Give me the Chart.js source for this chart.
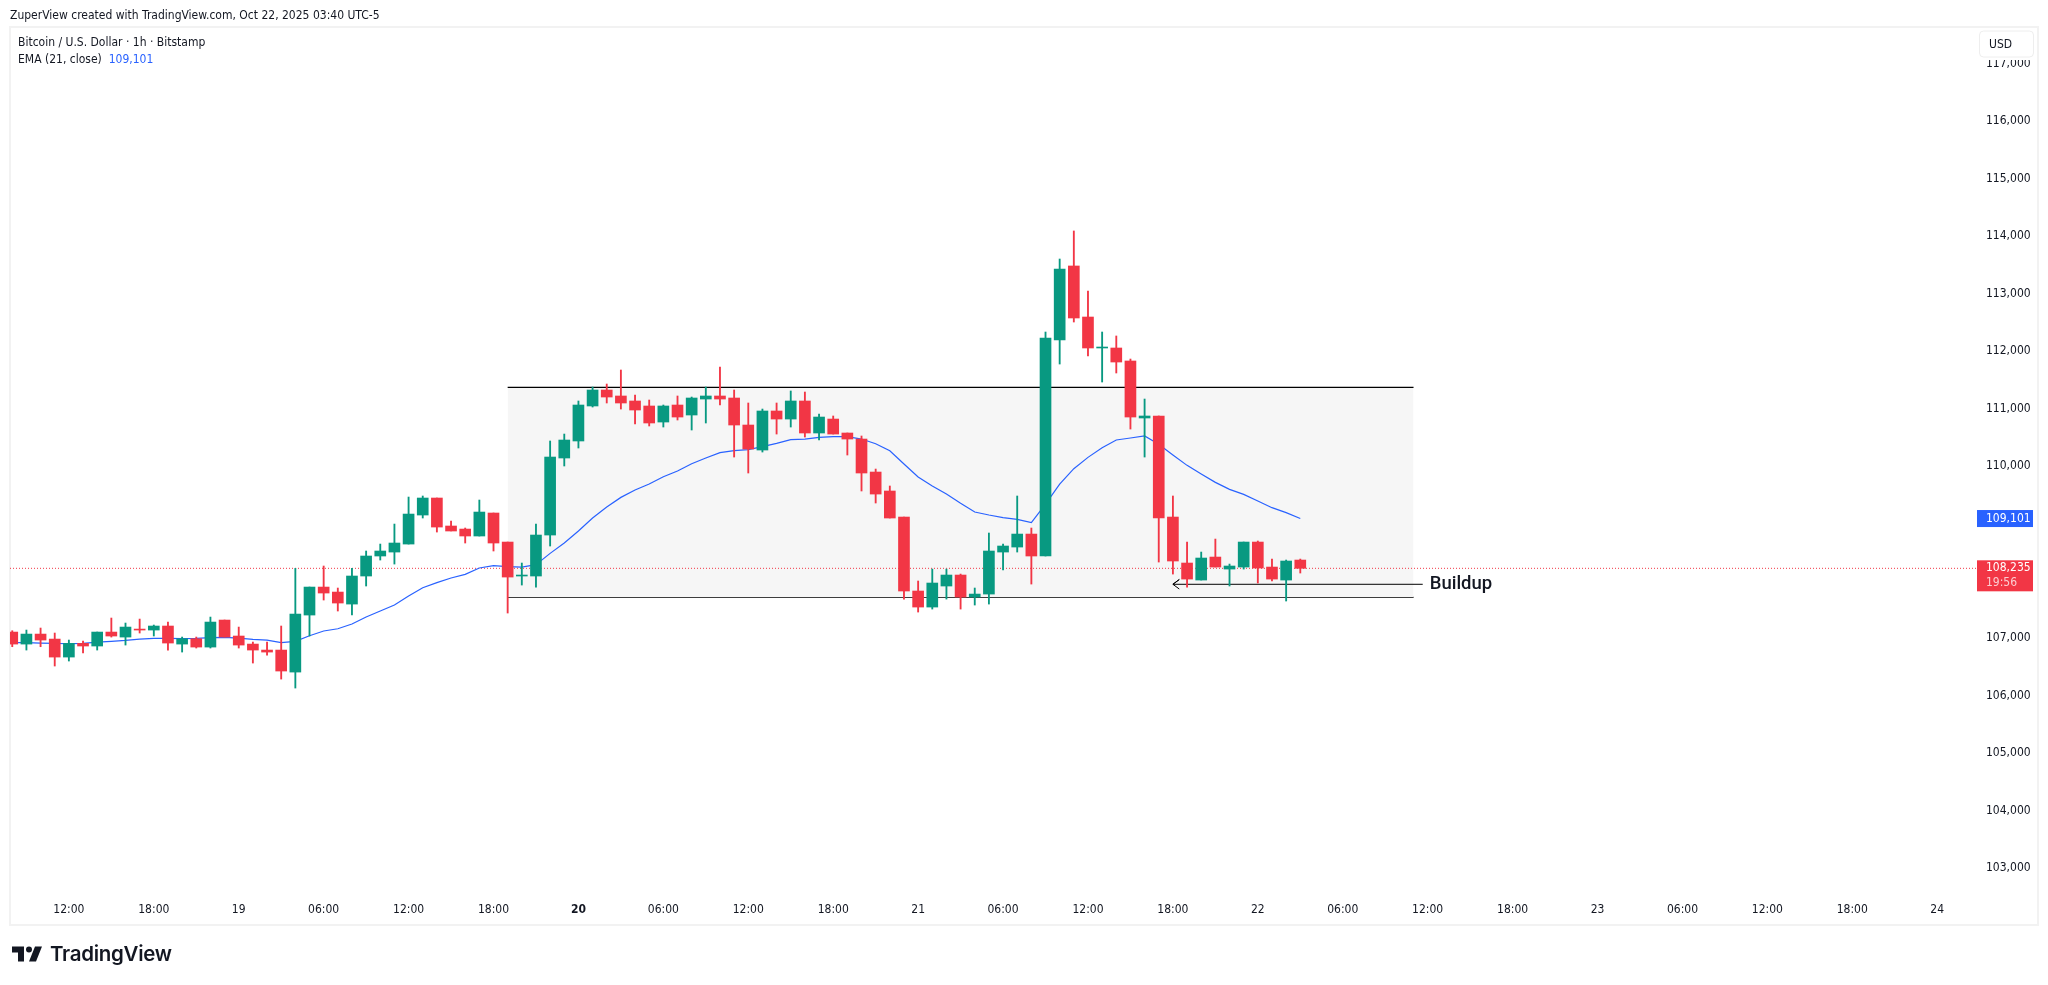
<!DOCTYPE html>
<html>
<head>
<meta charset="utf-8">
<title>BTCUSD 1h</title>
<script src="https://cdn.jsdelivr.net/npm/chart.js@4"></script>
<style>
  html, body { margin: 0; padding: 0; background: #fff; overflow: hidden; }
  body { width: 2048px; height: 985px; position: relative; color: #131722;
         font-family: 'DejaVu Sans Condensed', 'Noto Sans', sans-serif; }
  #frame { position: absolute; left: 9px; top: 26px; width: 2026px; height: 896px; border: 2px solid #f2f2f2; }
  #chart { position: absolute; left: 0; top: 0; }
  .txt { position: absolute; white-space: nowrap; font-size: 12px; line-height: 16px; }
  #brand { position: absolute; left: 12px; top: 941px; display: flex; align-items: center; }
  #brand span { font: 600 20.5px Inter, sans-serif; margin-left: 8px; letter-spacing: -0.3px; color: #131722; }
</style>
</head>
<body>
<div id="frame"></div>
<canvas id="chart" width="2048" height="985"></canvas>
<div class="txt" style="left:10px;top:7px">ZuperView created with TradingView.com, Oct 22, 2025 03:40 UTC-5</div>
<div class="txt" style="left:18px;top:34px">Bitcoin / U.S. Dollar · 1h · Bitstamp</div>
<div class="txt" style="left:18px;top:51px">EMA (21, close)&nbsp;&nbsp;<span style="color:#2962ff">109,101</span></div>
<div id="brand">
  <svg width="30" height="16" viewBox="2 6 30 15"><path fill="#131722" d="M14 6H2v6h6v9h6V6zm12 15h-7l6-15h7l-6 15zm-7-9a3 3 0 1 0 0-6 3 3 0 0 0 0 6z"/></svg>
  <span>TradingView</span>
</div>
<script>
// hours counted from Oct 18 00:00
const hours = [8,9,10,11,12,13,14,15,16,17,18,19,20,21,22,23,24,25,26,27,28,29,30,31,32,33,34,35,36,37,38,39,40,41,42,43,
  44,45,46,47,48,49,50,51,52,53,54,55,56,57,58,59,60,61,62,63,64,65,66,67,68,69,70,71,72,73,74,75,76,77,78,
  79,80,81,82,83,84,85,86,87,88,89,90,91,92,93,94,95,96,97,98,99];

const opens = [107126,106917,107091,107004,106691,106929,106883,107126,107039,107178,107161,107231,106917,107010,106865,107335,107057,106917,106813,106813,106430,107422,107909,107822,107613,108101,108449,108518,108657,109162,109458,108971,108918,108797,109197,108692,
  108101,108101,108814,110154,110450,111059,111337,111233,111146,111059,110780,111076,110902,111180,111233,111198,110728,110293,110972,110832,111146,110589,110832,110589,110484,109910,109580,109127,107840,107561,107927,108118,107735,107787,108518,
  108605,108831,108449,112207,113495,112607,112068,112068,111842,110850,110885,109127,108327,108031,108431,108222,108257,108692,108257,108031,108379];
const highs = [107149,107161,107196,107109,106987,106970,107126,107370,107283,107352,107248,107300,107039,107039,107387,107335,107213,106952,106952,107231,108234,107909,108275,107892,108234,108536,108657,109005,109475,109493,109458,109058,108936,109423,109197,108692,
  108327,109005,110450,110571,111146,111389,111441,111685,111250,111163,111076,111233,111215,111389,111737,111337,111111,111006,111111,111320,111302,110919,110885,110589,110537,109962,109667,109127,108014,108222,108222,108135,107892,108849,108657,
  109493,108936,112346,113616,114104,113060,112346,112277,111876,111180,110885,109493,108692,108518,108744,108309,108692,108710,108396,108379,108396];
const lows = [106871,106813,106871,106535,106622,106761,106813,107039,106900,107109,107057,106813,106778,106848,106848,107039,106848,106587,106726,106308,106152,107057,107683,107492,107422,107927,108379,108309,108657,109110,108866,108884,108675,108797,108536,107457,
  107944,107909,108623,110015,110328,111041,111111,111006,110745,110711,110693,110815,110641,110763,111076,110171,109893,110258,110571,110693,110519,110467,110571,110206,109580,109371,109110,107700,107474,107526,107700,107526,107596,107613,108205,
  108518,107961,108449,111789,112520,111929,111476,111633,110658,110171,108344,108135,107909,108031,108257,107927,108222,107979,108014,107666,108153];
const closes = [106917,107091,106987,106691,106929,106883,107126,107057,107213,107161,107231,106935,107010,106865,107300,107039,106900,106813,106778,106448,107439,107909,107805,107631,108101,108449,108536,108675,109179,109458,108953,108884,108797,109214,108675,108083,
  108118,108814,110171,110467,111076,111337,111215,111111,110989,110763,111059,110867,111198,111233,111180,110728,110310,110972,110832,111146,110589,110867,110571,110484,109893,109527,109110,107840,107561,107979,108118,107735,107787,108536,108623,
  108831,108449,112242,113442,112590,112068,112085,111824,110867,110885,109110,108362,108048,108414,108257,108275,108692,108240,108048,108362,108235];
const ema21 = [106941,106941,106935,106929,106923,106929,106952,106964,106981,107004,107016,107016,107010,107016,107028,107033,107022,106999,106987,106941,106964,107062,107144,107184,107265,107387,107492,107596,107753,107898,107985,108066,108130,108240,108280,108263,
  108257,108298,108495,108675,108884,109110,109301,109469,109597,109701,109829,109928,110055,110154,110247,110281,110299,110351,110409,110473,110484,110513,110525,110525,110484,110403,110281,110049,109823,109667,109527,109365,109214,109162,109116,
  109087,109029,109353,109701,109968,110165,110334,110467,110502,110537,110392,110206,110026,109875,109730,109609,109522,109406,109290,109203,109101];

const priceTicks = [103000,104000,105000,106000,107000,108000,109000,110000,111000,112000,113000,114000,115000,116000,117000];
const timeTicks = [12,18,24,30,36,42,48,54,60,66,72,78,84,90,96,102,108,114,120,126,132,138,144];
const timeLabels = ['12:00','18:00','19','06:00','12:00','18:00','20','06:00','12:00','18:00','21','06:00','12:00','18:00','22','06:00','12:00','18:00','23','06:00','12:00','18:00','24'];

const xMin = 7.84, xMax = 146.81;
const yMin = 102534, yMax = 117670;

const lastPrice = 108235;
const lastEma = 109101;
const countdown = '19:56';

// rectangle and arrow drawn on the chart by hand
const boxHours = [43, 107];
const boxTop = 111384;
const boxBottom = 107730;
const arrowHours = [90, 107.65];
const arrowPrice = 107957;
const arrowHeadHour = 90.45;
const arrowHeadPrices = [108040, 107875];

const GREEN = '#089981';
const RED = '#f23645';
const AXIS_FONT = "'DejaVu Sans Condensed', 'Noto Sans', sans-serif";

const candleColors = closes.map((c, i) => c >= opens[i] ? GREEN : RED);

const fmt = v => v.toLocaleString('en-US');

// price tags and the Buildup note, on top of the axis
const overlay = {
  id: 'overlay',
  afterDraw(chart) {
    const { ctx, scales: { x, y } } = chart;
    ctx.save();
    ctx.textBaseline = 'middle';

    ctx.fillStyle = '#2962ff';
    ctx.fillRect(1977, y.getPixelForValue(lastEma) - 8.5, 56, 17);
    ctx.fillStyle = '#fff';
    ctx.font = `12px ${AXIS_FONT}`;
    ctx.fillText(fmt(lastEma), 1986, y.getPixelForValue(lastEma));

    const lastY = y.getPixelForValue(lastPrice);
    ctx.fillStyle = RED;
    ctx.fillRect(1977, lastY - 8, 56, 31);
    ctx.fillStyle = '#fff';
    ctx.fillText(fmt(lastPrice), 1986, lastY);
    ctx.fillStyle = 'rgba(255,255,255,0.75)';
    ctx.fillText(countdown, 1986, lastY + 15);

    // USD button hides the top of the 117,000 label
    ctx.fillStyle = '#fff';
    ctx.fillRect(1979, 31, 56, 29);
    ctx.strokeStyle = '#eeeeee';
    ctx.beginPath();
    ctx.roundRect(1979.5, 31, 54, 26, 4);
    ctx.stroke();
    ctx.fillStyle = '#131722';
    ctx.fillText('USD', 1989, 44.5);

    ctx.fillStyle = '#131722';
    ctx.font = '500 18.5px Roboto, sans-serif';
    ctx.fillText('Buildup', x.getPixelForValue(arrowHours[1]) + 7, y.getPixelForValue(arrowPrice));
    ctx.restore();
  }
};

new Chart(document.getElementById('chart').getContext('2d'), {
  type: 'bar',
  plugins: [overlay],
  data: {
    datasets: [
      {
        // body
        data: hours.map((h, i) => ({ x: h, y: [opens[i], closes[i]] })),
        backgroundColor: candleColors,
        barThickness: 11,
        grouped: false,
        order: 1,
      },
      {
        // wick
        data: hours.map((h, i) => ({ x: h, y: [lows[i], highs[i]] })),
        backgroundColor: candleColors,
        barThickness: 1.2,
        grouped: false,
        order: 2,
      },
      {
        type: 'line',
        data: hours.map((h, i) => ({ x: h, y: ema21[i] })),
        borderColor: '#2962ff',
        borderWidth: 1.2,
        pointRadius: 0,
        order: 3,
      },
      {
        type: 'line',
        data: [{ x: xMin, y: lastPrice }, { x: xMax, y: lastPrice }],
        borderColor: RED,
        borderWidth: 1,
        borderDash: [1, 2],
        pointRadius: 0,
        order: 4,
      },
      {
        type: 'line',
        data: [
          { x: arrowHours[1], y: arrowPrice },
          { x: arrowHours[0], y: arrowPrice },
          { x: arrowHeadHour, y: arrowHeadPrices[0] },
          { x: arrowHours[0], y: arrowPrice },
          { x: arrowHeadHour, y: arrowHeadPrices[1] },
        ],
        borderColor: '#000',
        borderWidth: 1,
        pointRadius: 0,
        order: 5,
      },
      {
        type: 'line',
        data: boxHours.map(h => ({ x: h, y: boxTop })),
        borderColor: '#000',
        borderWidth: 1.2,
        pointRadius: 0,
        fill: '+1',
        backgroundColor: '#f6f6f6',
        order: 6,
      },
      {
        type: 'line',
        data: boxHours.map(h => ({ x: h, y: boxBottom })),
        borderColor: '#000',
        borderWidth: 1.2,
        pointRadius: 0,
        order: 6,
      },
    ]
  },
  options: {
    responsive: false,
    animation: false,
    devicePixelRatio: 1,
    layout: { padding: { left: 10, top: 26, right: 13, bottom: 61 } },
    plugins: { legend: { display: false }, tooltip: { enabled: false } },
    scales: {
      x: {
        type: 'linear',
        offset: false,
        min: xMin,
        max: xMax,
        grid: { display: false, drawTicks: false },
        border: { display: false },
        afterFit: s => { s.height = 28; },
        afterBuildTicks: s => { s.ticks = timeTicks.map(v => ({ value: v })); },
        ticks: {
          autoSkip: false,
          maxRotation: 0,
          padding: 7,
          color: '#131722',
          font: ctx => ({ family: AXIS_FONT, size: 12, weight: timeLabels[ctx.index] === '20' ? 'bold' : 'normal' }),
          callback: (v, i) => timeLabels[i],
        }
      },
      y: {
        position: 'right',
        min: yMin,
        max: yMax,
        grid: { display: false, drawTicks: false },
        border: { display: false },
        afterFit: s => { s.width = 58; },
        afterBuildTicks: s => { s.ticks = priceTicks.map(v => ({ value: v })); },
        ticks: {
          padding: 9,
          labelOffset: -1,
          color: '#131722',
          font: { family: AXIS_FONT, size: 12 },
          callback: v => fmt(v),
        }
      }
    }
  }
});
</script>
</body>
</html>
